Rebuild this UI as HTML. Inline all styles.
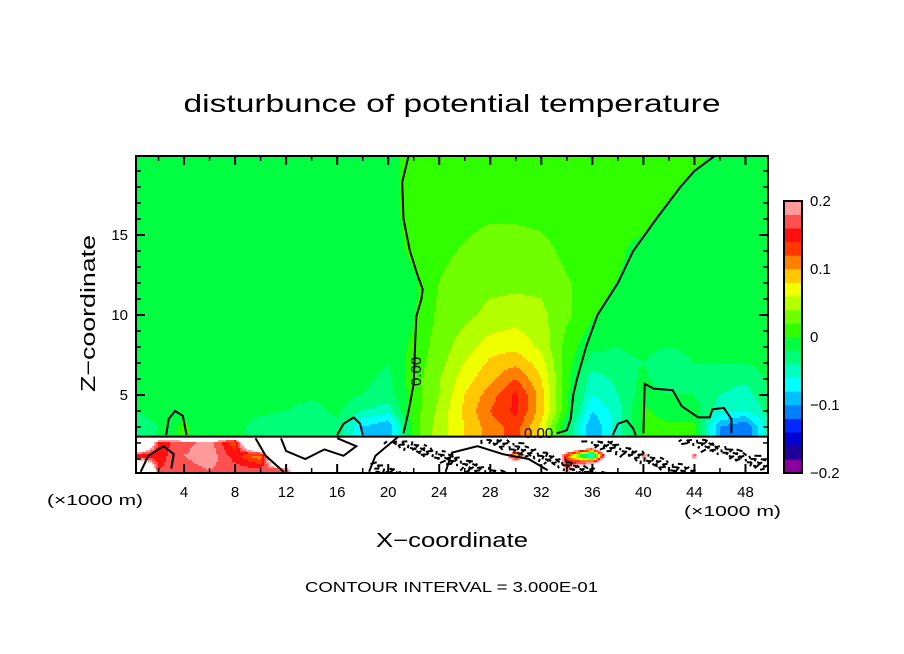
<!DOCTYPE html>
<html><head><meta charset="utf-8"><style>
html,body{margin:0;padding:0;background:#fff;}
svg{display:block;font-family:"Liberation Sans",sans-serif;}
</style></head><body>
<svg id="chart" width="904" height="654" viewBox="0 0 904 654" xmlns="http://www.w3.org/2000/svg">
<defs><clipPath id="plotclip"><rect x="136" y="156" width="632" height="317"/></clipPath></defs>
<rect x="0" y="0" width="904" height="654" fill="#fff"/>
<text x="452" y="112" font-size="25" text-anchor="middle" textLength="537" lengthAdjust="spacingAndGlyphs">disturbunce of potential temperature</text>
<g id="field" clip-path="url(#plotclip)"></g>
<g id="contours" clip-path="url(#plotclip)"></g>
<text x="0" y="0" font-size="15" transform="translate(421,386) rotate(-90)">0.00</text>
<text x="524" y="438" font-size="15">0.00</text>
<rect x="136" y="156" width="632" height="317" fill="none" stroke="#000" stroke-width="2"/>
<g id="axes"></g>
<g id="cbar"></g>
<text x="0" y="0" font-size="20" transform="translate(95,392) rotate(-90)" textLength="157" lengthAdjust="spacingAndGlyphs">Z−coordinate</text>
<text x="376" y="547" font-size="20" textLength="152" lengthAdjust="spacingAndGlyphs">X−coordinate</text>
<text x="47" y="505" font-size="15" textLength="96" lengthAdjust="spacingAndGlyphs">(×1000 m)</text>
<text x="684" y="516" font-size="15" textLength="97" lengthAdjust="spacingAndGlyphs">(×1000 m)</text>
<text x="305" y="592" font-size="15" textLength="293" lengthAdjust="spacingAndGlyphs">CONTOUR INTERVAL = 3.000E-01</text>
</svg>
<script>
const colors = ['#8800a0','#200098','#0000d0','#0028ff','#0080ff','#00c0ff','#00ffff','#00ffc0','#00ff78','#00ff40','#30ff00','#70ff00','#b4ff00','#f0ff00','#ffc800','#ff8000','#ff3800','#ff1010','#ff5050','#ff9a9a'];
const colorbarTicks = [0.2, 0.1, 0, -0.1, -0.2];
const colorbarLabels = ['0.2', '0.1', '0', '−0.1', '−0.2'];
const xTickValues = [4, 8, 12, 16, 20, 24, 28, 32, 36, 40, 44, 48];
const yTickValues = [5, 10, 15];
const gridX = [0,2,4,6,8,10,12,14,16,18,20,22,24,26,28,30,32,34,36,38,40,42,44,46,48,50];
const gridZ = [0.3,1.2,2.1,2.35,2.5,3,4,5,6,7,8,10,12,14,16,18,20];
const W = 0.5;
const row0_3 = [W,.16,.17,.18,.17,.17,.16,W,W,W,W,W,W,W,W,W,W,.17,W,W,W,W,W,W,W,W];
const row1_2 = [.12,.15,.18,.195,.15,.1,W,W,W,W,W,W,W,W,W,.05,W,.12,-.12,W,.15,W,.15,W,W,W];
const row2_1 = [W,.15,.17,.19,.12,W,W,W,W,W,W,W,W,W,W,W,W,W,W,W,W,W,W,W,W,W];
const row2_35 = [W,W,W,W,W,W,W,W,W,W,W,W,W,W,W,W,W,W,W,W,W,W,W,W,W,W];
const row3 = [-.03,-.02,.005,-.015,-.012,-.03,-.03,-.04,-.025,-.08,-.1,.01,.05,.08,.11,.13,.075,-.02,-.1,-.05,.005,.005,.005,-.1,-.12,-.04];
const row2_5 = row3.slice();
const row4 = [-.02,-.015,-.01,-.012,-.012,-.015,-.02,-.03,-.015,-.04,-.05,.01,.045,.085,.12,.145,.09,.002,-.08,-.05,.005,-.01,-.01,-.05,-.06,-.03];
const row5 = [-.015,-.012,-.01,-.01,-.01,-.01,-.01,-.015,-.012,-.02,-.03,.01,.04,.08,.11,.145,.09,.005,-.06,-.04,-.01,-.02,-.02,-.04,-.05,-.02];
const row6 = [-.01,-.01,-.01,-.01,-.01,-.01,-.01,-.01,-.01,-.015,-.025,.01,.038,.07,.095,.12,.08,.008,-.05,-.035,-.015,-.035,-.03,-.03,-.035,-.015];
const row7 = [-.01,-.01,-.01,-.01,-.01,-.01,-.01,-.01,-.01,-.01,-.02,.008,.033,.06,.085,.095,.07,.01,-.03,-.025,-.02,-.03,-.02,-.02,-.02,-.01];
const row8 = [-.01,-.01,-.01,-.01,-.01,-.01,-.01,-.01,-.01,-.01,-.015,.005,.03,.05,.07,.075,.055,.012,-.015,-.02,-.015,-.02,-.015,-.015,-.015,-.01];
const row10 = [-.01,-.01,-.01,-.01,-.01,-.01,-.01,-.01,-.01,-.01,-.012,-.003,.025,.035,.045,.05,.045,.025,.003,-.01,-.01,-.01,-.01,-.01,-.01,-.01];
const row12 = [-.01,-.01,-.01,-.01,-.01,-.01,-.01,-.01,-.01,-.01,-.01,-.004,.02,.03,.035,.035,.035,.022,.01,-.001,-.01,-.01,-.01,-.01,-.01,-.01];
const row14 = [-.01,-.01,-.01,-.01,-.01,-.01,-.01,-.01,-.01,-.01,-.01,.005,.015,.022,.03,.03,.026,.015,.01,.005,-.01,-.01,-.01,-.01,-.01,-.01];
const row16 = [-.01,-.01,-.01,-.01,-.01,-.01,-.01,-.01,-.01,-.01,-.01,.01,.012,.015,.018,.018,.016,.012,.01,.01,.01,-.01,-.01,-.01,-.01,-.01];
const row18 = [-.01,-.01,-.01,-.01,-.01,-.01,-.01,-.01,-.01,-.01,-.01,.01,.01,.01,.01,.01,.01,.01,.01,.01,.01,.01,-.01,-.01,-.01,-.01];
const row20 = [-.01,-.01,-.01,-.01,-.01,-.01,-.01,-.01,-.01,-.01,-.01,.01,.01,.01,.01,.01,.01,.01,.01,.01,.01,.01,.01,-.01,-.01,-.01];
const fieldRows = [row0_3,row1_2,row2_1,row2_35,row2_5,row3,row4,row5,row6,row7,row8,row10,row12,row14,row16,row18,row20];
const zeroLeft = [[21.6,19.95],[21.1,18.3],[21.2,16],[21.7,14],[22.3,12.5],[22.7,11.6],[22.6,11],[22.2,9.9],[22.1,8],[22,5.7],[21.6,4],[21.2,2.6]];
const zeroRight = [[45.6,19.95],[44,19],[42.9,18],[41,16],[39.2,14],[38,12],[36.4,10],[35.5,8],[34.8,6],[34.5,5],[34.3,3.5],[34,2.8],[33.2,2.6]];
const bumpA = [[2.6,2.5],[2.8,3.5],[3.3,4.0],[3.9,3.7],[4.2,2.5]];
const bumpB = [[16,2.5],[16.5,3.2],[17.3,3.6],[17.8,3.2],[18,2.5]];
const bumpC = [[40,2.6],[40.1,5.7],[40.8,5.4],[42.3,5.3],[43,4.3],[44.3,3.6],[45.2,3.6],[45.4,4.1],[46.3,4.2],[46.9,3.5],[46.9,2.6]];
const bumpD = [[37.6,2.5],[38,3.2],[38.7,3.4],[39.2,2.9],[39.4,2.5]];
const baseLine = [[0,2.4],[50,2.4]];
const lowC1 = [[0.6,0.2],[1.2,1.2],[2.4,1.8],[3.2,1.3],[3.0,0.4]];
const lowC2 = [[11.6,2.3],[12,1.5],[13.5,1.0],[15,1.6],[16.5,1.2],[17.5,1.8],[16,2.3]];
const lowC3 = [[18.5,0.2],[19,1.2],[20.8,2.4]];
const lowC4 = [[9.6,2.3],[10.4,1.2],[11.8,0.2]];
const lowC5 = [[24.5,0.2],[25,1.4],[27,1.8],[29,1.3],[31,1.0],[32.5,0.3]];
const contourLines = [zeroLeft, zeroRight, bumpA, bumpB, bumpC, bumpD, baseLine, lowC1, lowC2, lowC3, lowC4, lowC5];

const NS = 'http://www.w3.org/2000/svg';
const X0 = 133, XS = 12.76, Z0 = 475, ZS = 16;
const xScale = v => X0 + v * XS;
const zScale = v => Z0 - v * ZS;
const xInv = p => (p - X0) / XS;
const zInv = p => (Z0 - p) / ZS;
function colorIndex(v){ if (v < -0.2 || v > 0.2) return -1; return Math.min(19, Math.floor((v + 0.2) / 0.02 + 1e-9)); }
function locate(arr, v){ if (v <= arr[0]) return [0,0]; if (v >= arr[arr.length-1]) return [arr.length-2,1];
  for (let i=0;i<arr.length-1;i++){ if (v>=arr[i] && v<=arr[i+1]) return [i,(v-arr[i])/(arr[i+1]-arr[i])]; } return [0,0]; }
function sample(x,z){ const [i,fx]=locate(gridX,x); const [j,fz]=locate(gridZ,z);
  const a=fieldRows[j][i], b=fieldRows[j][i+1], c=fieldRows[j+1][i], d=fieldRows[j+1][i+1];
  return (a*(1-fx)+b*fx)*(1-fz)+(c*(1-fx)+d*fx)*fz; }

const field = document.getElementById('field');
const cell = 2;
for (let py = 156; py < 473; py += cell) {
  const z = zInv(py + cell/2);
  let runStart = 136, runIdx = null;
  for (let px = 136; px <= 768; px += cell) {
    const idx = px < 768 ? colorIndex(sample(xInv(px + cell/2), z)) : -2;
    if (runIdx === null) { runIdx = idx; runStart = px; continue; }
    if (idx !== runIdx) {
      if (runIdx >= 0) {
        const r = document.createElementNS(NS,'rect');
        r.setAttribute('x', runStart); r.setAttribute('y', py);
        r.setAttribute('width', px - runStart + 0.5); r.setAttribute('height', cell + 0.5);
        r.setAttribute('fill', colors[runIdx]);
        
        
        field.appendChild(r);
      }
      runIdx = idx; runStart = px;
    }
  }
}

const cg = document.getElementById('contours');
contourLines.forEach((line) => {
  const p = document.createElementNS(NS,'polyline');
  p.setAttribute('points', line.map(q => xScale(q[0]).toFixed(1)+','+zScale(q[1]).toFixed(1)).join(' '));
  p.setAttribute('fill','none'); p.setAttribute('stroke','#000'); p.setAttribute('stroke-width','2');
  
  
  cg.appendChild(p);
});
for (let k = 0; k < 260; k++) {
  const x = 19 + ((k * 37) % 310) / 10;
  const z = 0.2 + ((k * 53) % 21) / 10;
  const ang = ((k * 71) % 180) * Math.PI / 180;
  const L = 4 + (k % 4);
  const l = document.createElementNS(NS,'line');
  l.setAttribute('x1', xScale(x)); l.setAttribute('y1', zScale(z));
  l.setAttribute('x2', xScale(x) + L*Math.cos(ang)); l.setAttribute('y2', zScale(z) + L*Math.sin(ang)*0.6);
  l.setAttribute('stroke', '#000'); l.setAttribute('stroke-width', '2');
  
  
  cg.appendChild(l);
}

const ax = document.getElementById('axes');
function tick(x1,y1,x2,y2,w){ const l=document.createElementNS(NS,'line');
  l.setAttribute('x1',x1);l.setAttribute('y1',y1);l.setAttribute('x2',x2);l.setAttribute('y2',y2);
  l.setAttribute('stroke','#000');l.setAttribute('stroke-width',w);
  
  
  ax.appendChild(l); }
for (let v = 2; v <= 48; v += 2) {
  const px = xScale(v); const major = v % 4 === 0; const L = major ? 9 : 5;
  tick(px,473,px,473-L,major?2:1.5); tick(px,156,px,156+L,major?2:1.5);
}
for (let v = 1; v <= 19; v += 1) {
  const py = zScale(v); const major = v % 5 === 0; const L = major ? 9 : 5;
  tick(136,py,136+L,py,major?2:1.5); tick(768,py,768-L,py,major?2:1.5);
}
xTickValues.forEach(v => { const t=document.createElementNS(NS,'text');
  t.setAttribute('x',xScale(v)); t.setAttribute('y',497); t.setAttribute('font-size','15'); t.setAttribute('text-anchor','middle');
  
  
  t.textContent = v; ax.appendChild(t); });
yTickValues.forEach(v => { const t=document.createElementNS(NS,'text');
  t.setAttribute('x',128); t.setAttribute('y',zScale(v)+5); t.setAttribute('font-size','15'); t.setAttribute('text-anchor','end');
  
  
  t.textContent = v; ax.appendChild(t); });

const cb = document.getElementById('cbar');
const cbTop = 201, cbBot = 473, cbX = 784, cbW = 18;
const cbScale = v => cbBot - (v + 0.2) / 0.4 * (cbBot - cbTop);
colors.forEach((c, i) => { const v0 = -0.2 + i*0.02, v1 = v0 + 0.02;
  const r = document.createElementNS(NS,'rect');
  r.setAttribute('x',cbX); r.setAttribute('y',cbScale(v1)); r.setAttribute('width',cbW); r.setAttribute('height',cbScale(v0)-cbScale(v1)+0.3);
  r.setAttribute('fill',c);
  
  
  cb.appendChild(r); });
const fr = document.createElementNS(NS,'rect');
fr.setAttribute('x',cbX); fr.setAttribute('y',cbTop); fr.setAttribute('width',cbW); fr.setAttribute('height',cbBot-cbTop);
fr.setAttribute('fill','none'); fr.setAttribute('stroke','#000'); fr.setAttribute('stroke-width','2');


cb.appendChild(fr);
colorbarTicks.forEach((v, i) => { const t=document.createElementNS(NS,'text');
  t.setAttribute('x',810); t.setAttribute('y',cbScale(v)+5); t.setAttribute('font-size','15');
  
  
  t.textContent = colorbarLabels[i]; cb.appendChild(t); });
</script>
</body></html>
